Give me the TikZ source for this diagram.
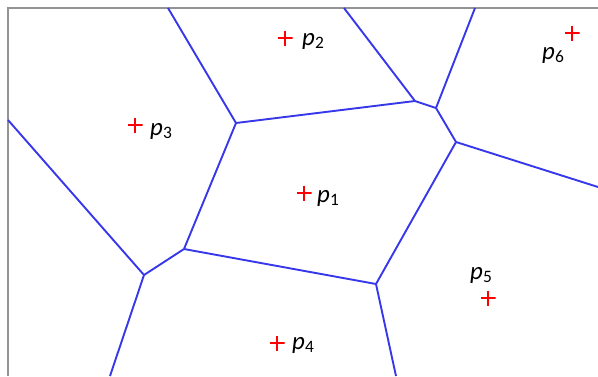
\documentclass[tikz,border=0pt]{standalone}
\usepackage{fontspec}
\setmainfont{Carlito}
\usetikzlibrary{positioning}
\definecolor{edgeblue}{RGB}{55,55,235}
\tikzset{cell/.style={draw=edgeblue,line width=1.9bp,line join=round},
site/.style={minimum size=15bp,inner sep=0,path picture={\draw[red,line width=1.6bp](path picture bounding box.north)--(path picture bounding box.south)(path picture bounding box.west)--(path picture bounding box.east);}},
lab/.style={inner sep=0pt,anchor=base west,font=\fontsize{25}{28}\selectfont}}
\newcommand{\Pt}[1]{\textit{p}\textsubscript{#1}}
\begin{document}
\begin{tikzpicture}[x=1bp,y=-1bp]
\useasboundingbox(0,0)rectangle(598,376);
\draw[gray!85,line width=1.6bp](598,8)--(8,8)--(8,376);
% vertices of the cells
\coordinate(A)at(236,123);\coordinate(B)at(415,101);\coordinate(C)at(436,108);\coordinate(D)at(456,142);
\coordinate(E)at(184,249);\coordinate(F)at(144,275);\coordinate(G)at(376,284);
% ends on the frame
\coordinate(tA)at(168,8);\coordinate(tB)at(344,8);\coordinate(tC)at(475,8);\coordinate(rD)at(598,187);
\coordinate(lF)at(8,120);\coordinate(bF)at(110,376);\coordinate(bG)at(396,376);
\draw[cell](tA)--(A)--(B)--(tB)(B)--(C)--(tC)(C)--(D)--(rD)(D)--(G)--(bG)(G)--(E)--(A)(E)--(F)--(lF)(F)--(bF);
% sites
\node[site](s1)at(304,193){};\node[lab,below right=9bp and 13bp of s1.center,anchor=base west]{\Pt1};
\node[site](s2)at(285,38){};\node[lab,below right=7bp and 17bp of s2.center,anchor=base west]{\Pt2};
\node[site](s3)at(135,125){};\node[lab,below right=10bp and 15bp of s3.center,anchor=base west]{\Pt3};
\node[site](s4)at(277,343){};\node[lab,below right=6bp and 15bp of s4.center,anchor=base west]{\Pt4};
\node[site](s5)at(488,298){};\node[lab,above left=19bp and 18bp of s5.center,anchor=base west]{\Pt5};
\node[site](s6)at(572,33){};\node[lab,below left=26bp and 30bp of s6.center,anchor=base west]{\Pt6};
\end{tikzpicture}
\end{document}
